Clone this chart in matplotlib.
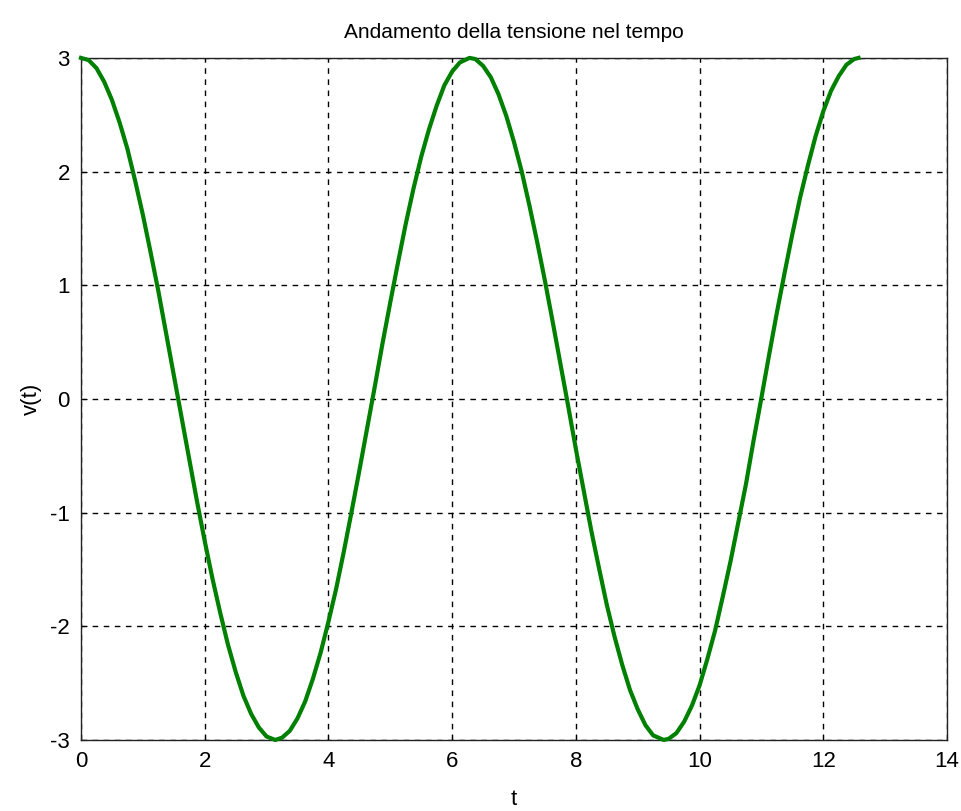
import matplotlib.pyplot as plt

# values
t = [0, 0.125, 0.25, 0.375, 0.5, 0.625, 0.75, 0.875, 1.0, 1.125, 1.25, 1.375, 1.5, 1.625,
     1.75, 1.875, 2.0, 2.125, 2.25, 2.375, 2.5, 2.625, 2.75, 2.875, 3.0, 3.14, 3.25, 3.375,
     3.5, 3.625, 3.75, 3.875, 4.0, 4.125, 4.25, 4.375, 4.5, 4.625, 4.75, 4.875, 5.0, 5.125,
     5.25, 5.375, 5.5, 5.625, 5.75, 5.875, 6.0, 6.125, 6.28, 6.375, 6.5, 6.625, 6.75, 6.875,
     7.0, 7.125, 7.25, 7.375, 7.5, 7.625, 7.75, 7.875, 8.0, 8.125, 8.25, 8.375, 8.5, 8.625,
     8.75, 8.875, 9.0, 9.125, 9.25, 9.42, 9.5, 9.625, 9.75, 9.875, 10.0, 10.125, 10.25,
     10.375, 10.5, 10.625, 10.75, 10.875, 11.0, 11.125, 11.25, 11.375, 11.5, 11.625, 11.75,
     11.875, 12.0, 12.125, 12.25, 12.375, 12.5, 12.57]
v = [3.00, 2.98, 2.91, 2.79, 2.63, 2.43, 2.20, 1.92, 1.62, 1.29, 0.95, 0.58, 0.21, -0.16,
     -0.53, -0.90, -1.25, -1.58, -1.88, -2.16, -2.40, -2.61, -2.77, -2.89, -2.97, -3.00, -2.98, -2.92,
     -2.81, -2.66, -2.46, -2.23, -1.96, -1.67, -1.34, -0.99, -0.63, -0.26, 0.11, 0.49, 0.85, 1.20,
     1.54, 1.85, 2.13, 2.37, 2.58, 2.76, 2.88, 2.96, 3.00, 2.99, 2.93, 2.83, 2.68, 2.49,
     2.26, 2.00, 1.70, 1.38, 1.04, 0.68, 0.31, -0.06, -0.44, -0.80, -1.16, -1.49, -1.81, -2.09,
     -2.34, -2.56, -2.73, -2.87, -2.96, -3.00, -2.99, -2.94, -2.84, -2.70, -2.52, -2.29, -2.04,
     -1.74, -1.43, -1.09, -0.75, -0.36, 0.01, 0.39, 0.76, 1.11, 1.45, 1.77, 2.05,
     2.31, 2.53, 2.71, 2.84, 2.94, 2.99, 3.00]

xticks = [0, 2, 4, 6, 8, 10, 12, 14]
yticks = [-3, -2, -1, 0, 1, 2, 3]

plt.rcParams['font.family'] = ['Liberation Sans', 'DejaVu Sans']
plt.rcParams['axes.unicode_minus'] = False

fig = plt.figure(figsize=(9.62, 8.11), dpi=100)
ax = fig.add_axes([0.0842, 0.0876, 0.9002, 0.841])

ax.plot(t, v, color='#008000', linewidth=3.0, clip_on=False, zorder=3)

ax.set_xlim(0, 14)
ax.set_ylim(-3, 3)
ax.set_xticks(xticks)
ax.set_yticks(yticks)
ax.grid(True, color='black', linestyle=(0, (4, 4)), linewidth=1.0)
ax.tick_params(direction='in', length=4, labelsize=16, colors='black', pad=8)

for s in ax.spines.values():
    s.set_linewidth(1.0)
    s.set_color('#222222')

ax.set_title('Andamento della tensione nel tempo', fontsize=15, pad=14)
ax.set_xlabel('t', fontsize=16, labelpad=12)
ax.set_ylabel('v(t)', fontsize=16, labelpad=6)

fig.savefig('out.png', dpi=100)
